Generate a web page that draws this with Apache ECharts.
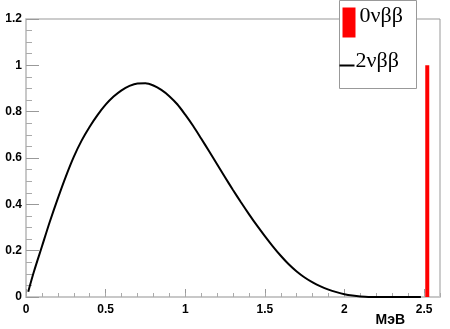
<!DOCTYPE html>
<html>
<head>
<meta charset="utf-8">
<script src="https://cdn.jsdelivr.net/npm/echarts@6/dist/echarts.min.js"></script>
<style>
  html, body { margin: 0; padding: 0; background: #fff; }
  #chart { width: 450px; height: 329px; }
</style>
</head>
<body>
<div id="chart"></div>
<script>
// 2vbb spectrum, MeV -> relative intensity
var energy = [0.014, 0.05, 0.1, 0.15, 0.2, 0.25, 0.3, 0.35, 0.4, 0.45, 0.5, 0.55, 0.6, 0.65,
  0.7, 0.75, 0.8, 0.85, 0.9, 0.95, 1.0, 1.05, 1.1, 1.15, 1.2, 1.25, 1.3, 1.35, 1.4, 1.45,
  1.5, 1.55, 1.6, 1.65, 1.7, 1.75, 1.8, 1.85, 1.9, 1.95, 2.0, 2.05, 2.1, 2.15, 2.48];
var spectrum2v = [0.023, 0.11, 0.218, 0.326, 0.426, 0.52, 0.605, 0.676, 0.735, 0.786, 0.83, 0.865, 0.892, 0.911,
  0.922, 0.923, 0.913, 0.894, 0.867, 0.832, 0.787, 0.738, 0.684, 0.629, 0.573, 0.517, 0.462, 0.409, 0.358, 0.309,
  0.263, 0.219, 0.178, 0.141, 0.11, 0.084, 0.063, 0.046, 0.032, 0.021, 0.012, 0.006, 0.002, 0, 0];
// 0vbb peak
var peakEnergy = [2.52];
var peakValue = [1];
var legendNames = ["0νββ", "2νββ"];

var chart = echarts.init(document.getElementById("chart"));

var curve = energy.map(function (e, i) {
  return [e, spectrum2v[i]];
});
var peak = peakEnergy.map(function (e, i) {
  return [e, peakValue[i]];
});

var labelFont = {
  color: "#000",
  fontFamily: "Liberation Sans",
  fontSize: 12,
  fontWeight: "bold",
};

var option = {
  animation: false,
  backgroundColor: "#fff",
  grid: {
    left: 26,
    right: 10,
    top: 19,
    bottom: 32,
    show: true,
    borderColor: "#999",
    borderWidth: 1,
  },
  xAxis: [
    {
      type: "value",
      min: 0,
      max: 2.6,
      interval: 0.5,
      name: "МэВ",
      nameLocation: "end",
      nameGap: -35,
      nameTextStyle: {
        color: "#000",
        fontFamily: "Liberation Sans",
        fontSize: 14,
        fontWeight: "bold",
        align: "right",
        verticalAlign: "top",
        padding: [16, 0, 0, 0],
      },
      axisLine: { lineStyle: { color: "#c8c8c8", width: 2 } },
      axisTick: { inside: true, length: 8, lineStyle: { color: "#999" } },
      axisLabel: Object.assign({ margin: 7, showMaxLabel: false }, labelFont),
      splitLine: { show: false },
    },
    {
      // minor ticks every 0.1
      type: "value",
      min: 0,
      max: 2.6,
      interval: 0.1,
      position: "bottom",
      axisLine: { show: false },
      axisTick: { inside: true, length: 4, lineStyle: { color: "#aaa" } },
      axisLabel: { show: false },
      splitLine: { show: false },
    },
  ],
  yAxis: {
    type: "value",
    min: 0,
    max: 1.2,
    interval: 0.2,
    axisLine: { show: true, lineStyle: { color: "#c8c8c8", width: 2 } },
    axisTick: { show: true, inside: true, length: 13, lineStyle: { color: "#999" } },
    minorTick: { show: true, splitNumber: 4, length: 6, lineStyle: { color: "#aaa" } },
    axisLabel: Object.assign({ margin: 4 }, labelFont),
    splitLine: { show: false },
  },
  series: [
    {
      name: legendNames[1],
      type: "line",
      data: curve,
      smooth: 0.3,
      symbol: "none",
      lineStyle: { color: "#000", width: 2 },
      z: 3,
    },
    {
      name: legendNames[0],
      type: "bar",
      data: peak,
      barWidth: 4,
      itemStyle: { color: "#ff0000" },
      z: 2,
    },
  ],
  graphic: [
    {
      type: "group",
      left: 337,
      top: 0,
      children: [
        {
          type: "rect",
          shape: { x: 0, y: 0, width: 77, height: 88 },
          style: { fill: "#fff", stroke: "#999", lineWidth: 1 },
        },
        {
          type: "rect",
          shape: { x: 3, y: 7, width: 13, height: 30 },
          style: { fill: "#ff0000" },
        },
        {
          type: "text",
          x: 20,
          y: 27,
          style: {
            text: legendNames[0],
            font: "22px 'Liberation Serif'",
            fill: "#000",
            textVerticalAlign: "bottom",
          },
        },
        {
          type: "line",
          shape: { x1: 0, y1: 65, x2: 15, y2: 65 },
          style: { stroke: "#000", lineWidth: 2 },
        },
        {
          type: "text",
          x: 16,
          y: 72,
          style: {
            text: legendNames[1],
            font: "22px 'Liberation Serif'",
            fill: "#000",
            textVerticalAlign: "bottom",
          },
        },
      ],
    },
  ],
};

chart.setOption(option);
</script>
</body>
</html>
